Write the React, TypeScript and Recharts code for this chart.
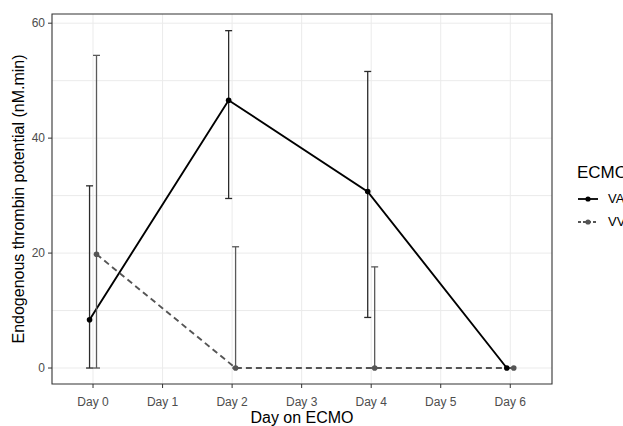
import React from 'react';
import {
  ComposedChart, Line, XAxis, YAxis, CartesianGrid, ErrorBar, ReferenceArea, Legend,
} from 'recharts';

// ---- data ----
const days = [0, 2, 4, 6];
const vaMean = [8.4, 46.6, 30.7, 0];
const vaLower = [0, 29.5, 8.8, null];
const vaUpper = [31.7, 58.7, 51.6, null];
const vvMean = [19.8, 0, 0, 0];
const vvLower = [0, 0, 0, null];
const vvUpper = [54.4, 21.1, 17.6, null];

const xTicks = [0, 1, 2, 3, 4, 5, 6];
const yTicks = [0, 20, 40, 60];
const yGrid = [0, 10, 20, 30, 40, 50, 60];
const xDomain = [-0.59, 6.6];
const yDomain = [-2.78, 61.6];
const dodge = 0.05;

const build = (mean: number[], lo: (number | null)[], hi: (number | null)[], off: number) =>
  days.map((d, i) => ({
    x: d + off,
    y: mean[i],
    err: lo[i] == null || hi[i] == null ? null : [mean[i] - (lo[i] as number), (hi[i] as number) - mean[i]],
  }));

const vaData = build(vaMean, vaLower, vaUpper, -dodge);
const vvData = build(vvMean, vvLower, vvUpper, dodge);

const FONT = '"Liberation Sans", Arial, sans-serif';

const LegendBox = () => (
  <div style={{ fontFamily: FONT, position: 'relative', width: 80, height: 80 }}>
    <div style={{ position: 'absolute', left: 1, top: 3, fontSize: 17, color: '#000', whiteSpace: 'nowrap' }}>ECMO</div>
    {[
      { label: 'VA', color: '#000', dash: undefined, y: 39 },
      { label: 'VV', color: '#555', dash: '3 2', y: 62 },
    ].map((it) => (
      <div key={it.label} style={{ position: 'absolute', left: 0, top: it.y - 10, height: 20, width: 80 }}>
        <svg width={22} height={20} style={{ position: 'absolute', left: 1, top: 0 }}>
          <line x1={1} y1={10} x2={21} y2={10} stroke={it.color} strokeWidth={1.8} strokeDasharray={it.dash} />
          <circle cx={11} cy={10} r={2.6} fill={it.color} />
        </svg>
        <span style={{ position: 'absolute', left: 32, top: 2, fontSize: 13, color: '#000' }}>{it.label}</span>
      </div>
    ))}
  </div>
);

export default function App() {
  return (
    <div style={{ position: 'absolute', left: 0, top: 0, width: 623, height: 426, background: '#fff', overflow: 'hidden' }}>
      <ComposedChart width={623} height={426} margin={{ top: 14, right: 71, bottom: 0, left: 0 }}>
        <CartesianGrid stroke="#ebebeb" strokeWidth={1} horizontalValues={yGrid} verticalValues={xTicks} />
        <XAxis
          type="number"
          dataKey="x"
          domain={xDomain}
          allowDataOverflow
          ticks={xTicks}
          tickFormatter={(d: number) => `Day ${d}`}
          height={42}
          tickSize={4}
          tickMargin={9}
          axisLine={false}
          tickLine={{ stroke: '#333' }}
          tick={{ fill: '#4d4d4d', fontSize: 12, fontFamily: FONT }}
          label={{ value: 'Day on ECMO', position: 'insideBottom', offset: 3, style: { fill: '#000', fontSize: 16, fontFamily: FONT } }}
        />
        <YAxis
          type="number"
          domain={yDomain}
          allowDataOverflow
          ticks={yTicks}
          width={52}
          tickSize={4}
          tickMargin={3}
          axisLine={false}
          tickLine={{ stroke: '#333' }}
          tick={{ fill: '#4d4d4d', fontSize: 12, fontFamily: FONT }}
          label={{
            value: 'Endogenous thrombin potential (nM.min)',
            angle: -90,
            position: 'insideLeft',
            offset: 18,
            style: { textAnchor: 'middle', fill: '#000', fontSize: 16, fontFamily: FONT },
          }}
        />
        <Legend
          layout="horizontal"
          verticalAlign="middle"
          align="center"
          wrapperStyle={{ left: 576, top: 160, width: 80, height: 80 }}
          content={() => <LegendBox />}
        />
        <Line
          data={vaData}
          dataKey="y"
          name="VA"
          stroke="#000"
          strokeWidth={1.9}
          dot={{ r: 2.8, fill: '#000', stroke: '#000', strokeWidth: 0 }}
          activeDot={false}
          isAnimationActive={false}
        >
          <ErrorBar dataKey="err" direction="y" width={3.5} stroke="#2b2b2b" strokeWidth={1.3} />
        </Line>
        <Line
          data={vvData}
          dataKey="y"
          name="VV"
          stroke="#555"
          strokeWidth={1.9}
          strokeDasharray="6 4"
          dot={{ r: 2.8, fill: '#555', stroke: '#555', strokeWidth: 0, strokeDasharray: '' }}
          activeDot={false}
          isAnimationActive={false}
        >
          <ErrorBar dataKey="err" direction="y" width={3.5} stroke="#5a5a5a" strokeWidth={1.3} />
        </Line>
        <ReferenceArea
          x1={xDomain[0]}
          x2={xDomain[1]}
          y1={yDomain[0]}
          y2={yDomain[1]}
          fill="none"
          stroke="#333"
          strokeWidth={1.1}
          ifOverflow="visible"
        />
      </ComposedChart>
    </div>
  );
}
